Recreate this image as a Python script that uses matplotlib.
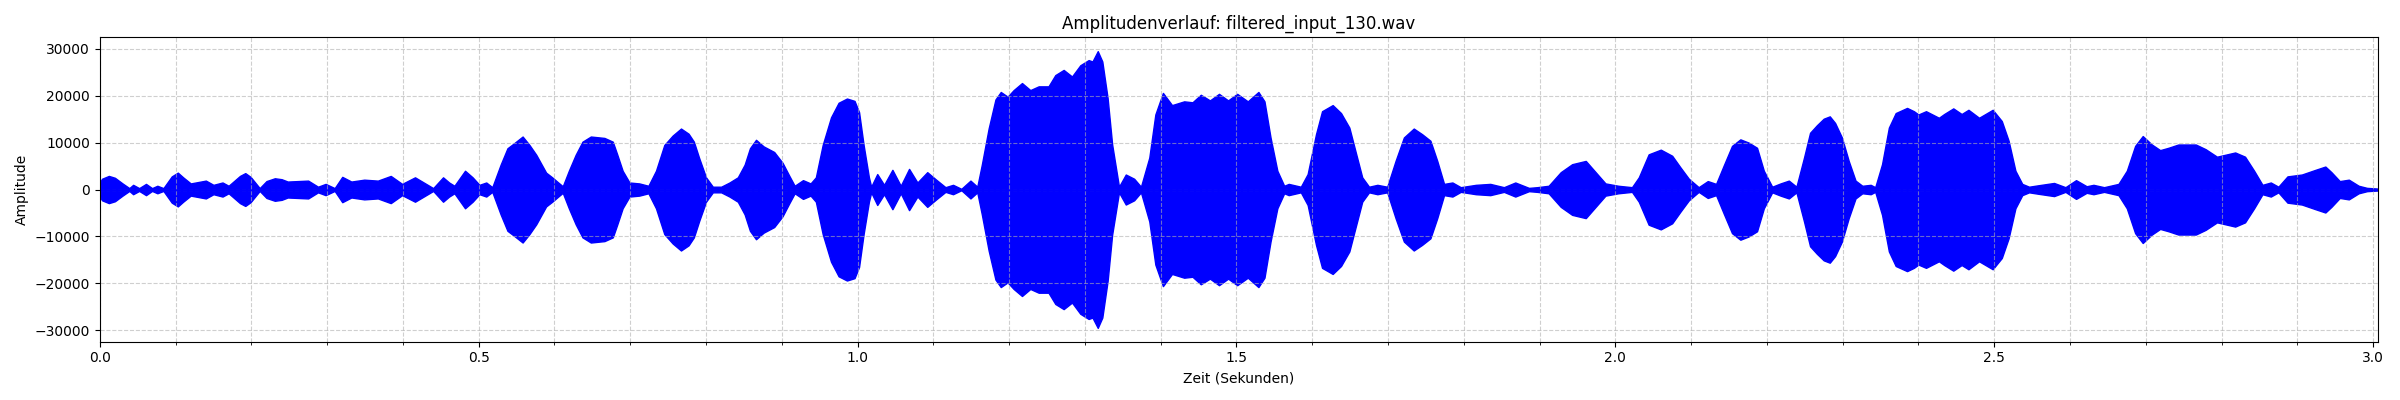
import matplotlib
matplotlib.use("Agg")
import matplotlib.pyplot as plt
from matplotlib.ticker import MultipleLocator

# Huellkurve des Signals (Zeit in s, Amplitude)
zeit = [0.000, 0.003, 0.012, 0.020, 0.030, 0.039, 0.044, 0.052, 0.061, 0.069,
        0.076, 0.084, 0.095, 0.103, 0.110, 0.120, 0.140, 0.150, 0.162, 0.170,
        0.185, 0.192, 0.199, 0.211, 0.220, 0.231, 0.240, 0.248, 0.275, 0.288,
        0.298, 0.310, 0.320, 0.332, 0.349, 0.367, 0.384, 0.399, 0.416, 0.440,
        0.453, 0.461, 0.468, 0.482, 0.492, 0.501, 0.510, 0.518, 0.529, 0.538,
        0.547, 0.558, 0.567, 0.576, 0.589, 0.597, 0.605, 0.611, 0.619, 0.628,
        0.637, 0.648, 0.666, 0.677, 0.683, 0.690, 0.699, 0.712, 0.724, 0.734,
        0.745, 0.756, 0.767, 0.777, 0.784, 0.791, 0.800, 0.809, 0.820, 0.831,
        0.842, 0.851, 0.858, 0.866, 0.876, 0.890, 0.901, 0.910, 0.917, 0.928,
        0.938, 0.945, 0.954, 0.965, 0.975, 0.986, 0.996, 1.002, 1.008, 1.015,
        1.018, 1.026, 1.035, 1.046, 1.057, 1.068, 1.079, 1.092, 1.103, 1.116,
        1.126, 1.137, 1.149, 1.158, 1.164, 1.173, 1.182, 1.189, 1.198, 1.206,
        1.217, 1.228, 1.239, 1.252, 1.261, 1.272, 1.283, 1.294, 1.305, 1.310,
        1.317, 1.323, 1.330, 1.336, 1.345, 1.354, 1.365, 1.374, 1.385, 1.393,
        1.403, 1.415, 1.431, 1.442, 1.453, 1.465, 1.477, 1.489, 1.501, 1.515,
        1.529, 1.537, 1.545, 1.554, 1.563, 1.569, 1.585, 1.594, 1.605, 1.613,
        1.627, 1.638, 1.649, 1.657, 1.666, 1.675, 1.686, 1.699, 1.710, 1.721,
        1.734, 1.745, 1.756, 1.765, 1.774, 1.785, 1.796, 1.816, 1.835, 1.853,
        1.868, 1.886, 1.897, 1.912, 1.928, 1.943, 1.961, 1.974, 1.987, 2.004,
        2.022, 2.031, 2.044, 2.060, 2.075, 2.086, 2.097, 2.110, 2.122, 2.133,
        2.143, 2.154, 2.165, 2.176, 2.187, 2.196, 2.207, 2.218, 2.229, 2.239,
        2.249, 2.257, 2.266, 2.275, 2.283, 2.290, 2.299, 2.308, 2.317, 2.326,
        2.337, 2.343, 2.352, 2.361, 2.370, 2.385, 2.394, 2.400, 2.410, 2.427,
        2.434, 2.446, 2.457, 2.466, 2.480, 2.498, 2.510, 2.519, 2.528, 2.537,
        2.546, 2.558, 2.579, 2.594, 2.608, 2.622, 2.631, 2.645, 2.664, 2.675,
        2.686, 2.696, 2.708, 2.719, 2.730, 2.743, 2.766, 2.779, 2.794, 2.818,
        2.831, 2.843, 2.854, 2.865, 2.875, 2.887, 2.906, 2.924, 2.937, 2.945,
        2.956, 2.968, 2.981, 2.992, 3.007]

huelle = [1500, 2300, 2900, 2500, 1300, 300, 1000, 300, 1200, 300,
          800, 300, 2800, 3600, 2600, 1300, 1900, 1000, 1500, 800,
          2900, 3500, 2700, 300, 1800, 2400, 2200, 1700, 1900, 600,
          1200, 300, 2700, 1700, 2100, 1900, 2900, 1200, 2600, 300,
          2600, 1500, 800, 4000, 2600, 1000, 1500, 500, 5300, 8800,
          9900, 11300, 9500, 7400, 3600, 2600, 1500, 700, 4000, 7400,
          10200, 11300, 11000, 10200, 7400, 4000, 1500, 1300, 800, 4000,
          9500, 11500, 13000, 11900, 10200, 6700, 2600, 600, 600, 1500,
          2600, 5300, 8800, 10600, 9200, 8000, 5700, 2900, 800, 2000,
          1300, 2600, 9500, 15400, 18500, 19400, 18900, 16500, 9500, 2600,
          600, 3300, 1000, 4200, 800, 4400, 1500, 3700, 2200, 500,
          1000, 150, 1900, 600, 5300, 13000, 19200, 20800, 19800, 21200,
          22700, 21200, 22000, 22000, 24400, 25500, 24100, 26500, 27600, 27300,
          29500, 27300, 19500, 9600, 600, 3200, 2300, 600, 6800, 16000,
          20600, 18000, 18800, 18600, 20200, 19000, 20400, 19000, 20400, 18800,
          20800, 18800, 11100, 4000, 800, 1200, 600, 3300, 11800, 16700,
          18000, 16300, 13200, 8200, 2600, 600, 1000, 600, 6100, 11100,
          13000, 11800, 10400, 6100, 1200, 1500, 500, 1000, 1200, 500,
          1500, 350, 500, 800, 3700, 5400, 6100, 3700, 1300, 800,
          500, 2600, 7500, 8500, 7200, 4700, 2300, 500, 1800, 1200,
          5100, 9300, 10700, 10000, 8900, 4000, 600, 1300, 1900, 600,
          6800, 12100, 13700, 15100, 15600, 14200, 11100, 6100, 1900, 800,
          1000, 500, 5400, 13200, 16300, 17400, 16700, 16000, 16700, 15300,
          16100, 17300, 16100, 17000, 15300, 17000, 14600, 10400, 4000, 1200,
          600, 900, 1400, 500, 2000, 700, 1000, 500, 1200, 4000,
          9300, 11400, 9600, 8400, 8900, 9600, 9600, 8600, 7000, 7900,
          7000, 4000, 1000, 1500, 600, 2800, 3200, 4200, 4900, 3700,
          1800, 2100, 800, 350, 200]

unten = [-h for h in huelle]

dateiname = "filtered_input_130.wav"

fig, ax = plt.subplots(figsize=(24, 4), dpi=100)
ax.fill_between(zeit, unten, huelle, color="blue", linewidth=1.0)
ax.plot(zeit, [0] * len(zeit), color="blue", linewidth=1.0)
ax.set_title(f"Amplitudenverlauf: {dateiname}")
ax.set_xlabel("Zeit (Sekunden)")
ax.set_ylabel("Amplitude")
ax.set_xlim(0, zeit[-1])
ax.xaxis.set_minor_locator(MultipleLocator(0.1))
ax.grid(True, which="both", linestyle="--", alpha=0.6)
plt.tight_layout()
plt.savefig("out.png")
